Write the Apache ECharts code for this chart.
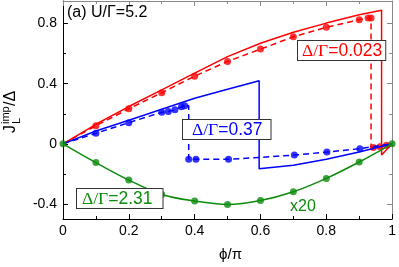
<!DOCTYPE html>
<html><head><meta charset="utf-8">
<script src="https://cdn.jsdelivr.net/npm/echarts@6/dist/echarts.min.js"></script>
<style>html,body{margin:0;padding:0;background:#fff}#c{width:399px;height:267px}</style>
</head><body><div id="c"></div>
<script>
// ---- data ----
const xTicks = [0, 0.2, 0.4, 0.6, 0.8, 1];
const yMajor = [-0.4, 0, 0.4, 0.8];
const yMinor = [-0.2, 0.2, 0.6];

// Δ/Γ=0.023 (red)
const redSolidX = [0, 0.1, 0.2, 0.3, 0.4, 0.5, 0.6, 0.7, 0.8, 0.9, 0.968, 0.968, 1];
const redSolidY = [0, 0.13, 0.248, 0.359, 0.47, 0.58, 0.669, 0.742, 0.803, 0.858, 0.889, -0.075, 0];
const redDashX = [0, 0.1, 0.2, 0.3, 0.4, 0.5, 0.6, 0.7, 0.8, 0.9, 0.927, 0.936, 0.936, 0.943, 0.963, 0.983, 1];
const redDashY = [0, 0.12, 0.233, 0.34, 0.45, 0.548, 0.63, 0.712, 0.775, 0.825, 0.837, 0.837, -0.025, -0.025, -0.019, -0.01, 0];
const redDotX = [0.1, 0.2, 0.3, 0.4, 0.5, 0.6, 0.7, 0.8, 0.9, 0.927, 0.936, 0.943, 0.963, 0.983];
const redDotY = [0.12, 0.233, 0.34, 0.45, 0.548, 0.63, 0.712, 0.775, 0.825, 0.837, 0.837, -0.025, -0.019, -0.01];

// Δ/Γ=0.37 (blue)
const blueSolidX = [0, 0.1, 0.2, 0.3, 0.4, 0.5, 0.596, 0.596, 0.7, 0.8, 0.9, 1];
const blueSolidY = [0, 0.085, 0.157, 0.23, 0.303, 0.363, 0.419, -0.165, -0.143, -0.103, -0.055, 0];
const blueDashX = [0, 0.1, 0.2, 0.3, 0.32, 0.34, 0.36, 0.37, 0.382, 0.382, 0.404, 0.503, 0.6, 0.703, 0.802, 0.902, 1];
const blueDashY = [0, 0.07, 0.141, 0.21, 0.215, 0.226, 0.246, 0.254, 0.254, -0.103, -0.103, -0.103, -0.09, -0.075, -0.055, -0.032, 0];
const blueDotX = [0.1, 0.2, 0.3, 0.32, 0.34, 0.36, 0.37, 0.382, 0.404, 0.503, 0.703, 0.802, 0.902];
const blueDotY = [0.07, 0.141, 0.21, 0.215, 0.226, 0.246, 0.254, -0.103, -0.103, -0.103, -0.075, -0.055, -0.032];

// Δ/Γ=2.31 (green, x20)
const greenX = [0, 0.1, 0.2, 0.3, 0.4, 0.5, 0.6, 0.7, 0.8, 0.9, 1];
const greenY = [0, -0.125, -0.241, -0.337, -0.381, -0.403, -0.377, -0.319, -0.23, -0.121, 0];

const RED = '#ff0000', BLUE = '#0000ff', GREEN = '#0b8c0b';
const zip = (a, b) => a.map((v, i) => [v, b[i]]);

const chart = echarts.init(document.getElementById('c'), null, {renderer: 'canvas'});
const FONT = 'Liberation Sans, Arial, Helvetica, sans-serif';
const SERIF = 'Liberation Serif, Times New Roman, serif';

function yAx(pos, vals, len, showLine, showLabel, lineColor) {
  return {
    type: 'value', min: -0.5, max: 0.95, position: pos,
    axisLine: {show: showLine, onZero: false, lineStyle: {color: lineColor, width: 1}},
    axisTick: {show: true, inside: true, length: len, customValues: vals, lineStyle: {color: lineColor}},
    axisLabel: {show: showLabel, customValues: yMajor, color: '#000', fontSize: 14, fontFamily: FONT, margin: 6,
      formatter: v => (Math.abs(v) < 1e-9 ? '0' : String(+v.toFixed(2)))},
    splitLine: {show: false}
  };
}
function xAx(pos, showLabel, lineColor) {
  return {
    type: 'value', min: 0, max: 1, interval: 0.2, position: pos,
    axisLine: {show: true, onZero: false, lineStyle: {color: lineColor, width: 1}},
    axisTick: {show: true, inside: true, length: 5, lineStyle: {color: lineColor}},
    minorTick: {show: true, splitNumber: 2, length: 3, lineStyle: {color: lineColor}},
    axisLabel: {show: showLabel, color: '#000', fontSize: 14, fontFamily: FONT, margin: 5,
      formatter: v => (v === 0 ? '0' : v === 1 ? '1' : String(+v.toFixed(2)))},
    splitLine: {show: false}, minorSplitLine: {show: false},
    name: showLabel ? 'ϕ/π' : '', nameLocation: 'middle', nameGap: 28,
    nameTextStyle: {color: '#000', fontSize: 15, fontFamily: FONT, padding: [0, 0, 0, 6]}
  };
}

const line = (data, color, dashed, z, smooth) => ({
  type: 'line', data, xAxisIndex: 0, yAxisIndex: 0, showSymbol: false, symbol: 'none',
  smooth: smooth || false, z,
  lineStyle: {color, width: 1.5, type: dashed ? [6, 4] : 'solid'}, animation: false
});
const dots = (data, color, z) => ({
  type: 'scatter', data, xAxisIndex: 0, yAxisIndex: 0, symbol: 'circle', symbolSize: 7, z,
  itemStyle: {color}, animation: false
});
const box = (x, y, val, color, padL, padR) => ({
  type: 'text', x, y, z: 20, style: {
    text: '{g|Δ/Γ}{n|=' + val + '}', fill: color,
    rich: {g: {font: '17.5px ' + SERIF, fill: color}, n: {font: '17.5px ' + FONT, fill: color}},
    backgroundColor: '#fff', borderColor: '#333', borderWidth: 1, padding: [1, padR, 0, padL]
  }
});

chart.setOption({
  animation: false,
  grid: {left: 63, right: 5, top: 1, bottom: 47, containLabel: false},
  xAxis: [xAx('bottom', true, '#000'), xAx('top', false, '#888')],
  yAxis: [
    yAx('left', yMajor, 5, true, true, '#000'),
    yAx('left', yMinor, 3, false, false, '#000'),
    yAx('right', yMajor, 5, true, false, '#888'),
    yAx('right', yMinor, 3, false, false, '#888')
  ],
  series: [
    line(zip(redSolidX, redSolidY), RED, false, 2),
    line(zip(redDashX, redDashY), RED, true, 2),
    dots(zip(redDotX, redDotY), RED, 3),
    line(zip(blueSolidX, blueSolidY), BLUE, false, 4),
    line(zip(blueDashX, blueDashY), BLUE, true, 4),
    dots(zip(blueDotX, blueDotY), BLUE, 5),
    line(zip(greenX, greenY), GREEN, false, 6, 0.35),
    dots(zip(greenX, greenY), GREEN, 7)
  ],
  graphic: [
    {type: 'text', x: 67, y: 5, z: 20, style: {text: '(a) U/Γ=5.2', font: '16px ' + FONT, fill: '#000'}},
    box(298, 41, '0.023', RED, 4, 3),
    box(183, 120, '0.37', BLUE, 9, 8),
    box(77, 189, '2.31', GREEN, 5, 10),
    {type: 'text', x: 290, y: 199, z: 20, style: {text: 'x20', font: '16px ' + FONT, fill: GREEN}},
    {type: 'group', x: 11, y: 106, rotation: Math.PI / 2, z: 20, children: [
      {type: 'text', x: -27, y: 0, style: {text: 'J', font: '16px ' + FONT, fill: '#000', textVerticalAlign: 'middle', textAlign: 'left'}},
      {type: 'text', x: -18, y: -5, style: {text: 'imp', font: '11px ' + FONT, fill: '#000', textVerticalAlign: 'middle', textAlign: 'left'}},
      {type: 'text', x: -18, y: 6, style: {text: 'L', font: '11px ' + FONT, fill: '#000', textVerticalAlign: 'middle', textAlign: 'left'}},
      {type: 'text', x: 0, y: 0, style: {text: '/Δ', font: '16px ' + FONT, fill: '#000', textVerticalAlign: 'middle', textAlign: 'left'}}
    ]}
  ]
});
</script></body></html>
